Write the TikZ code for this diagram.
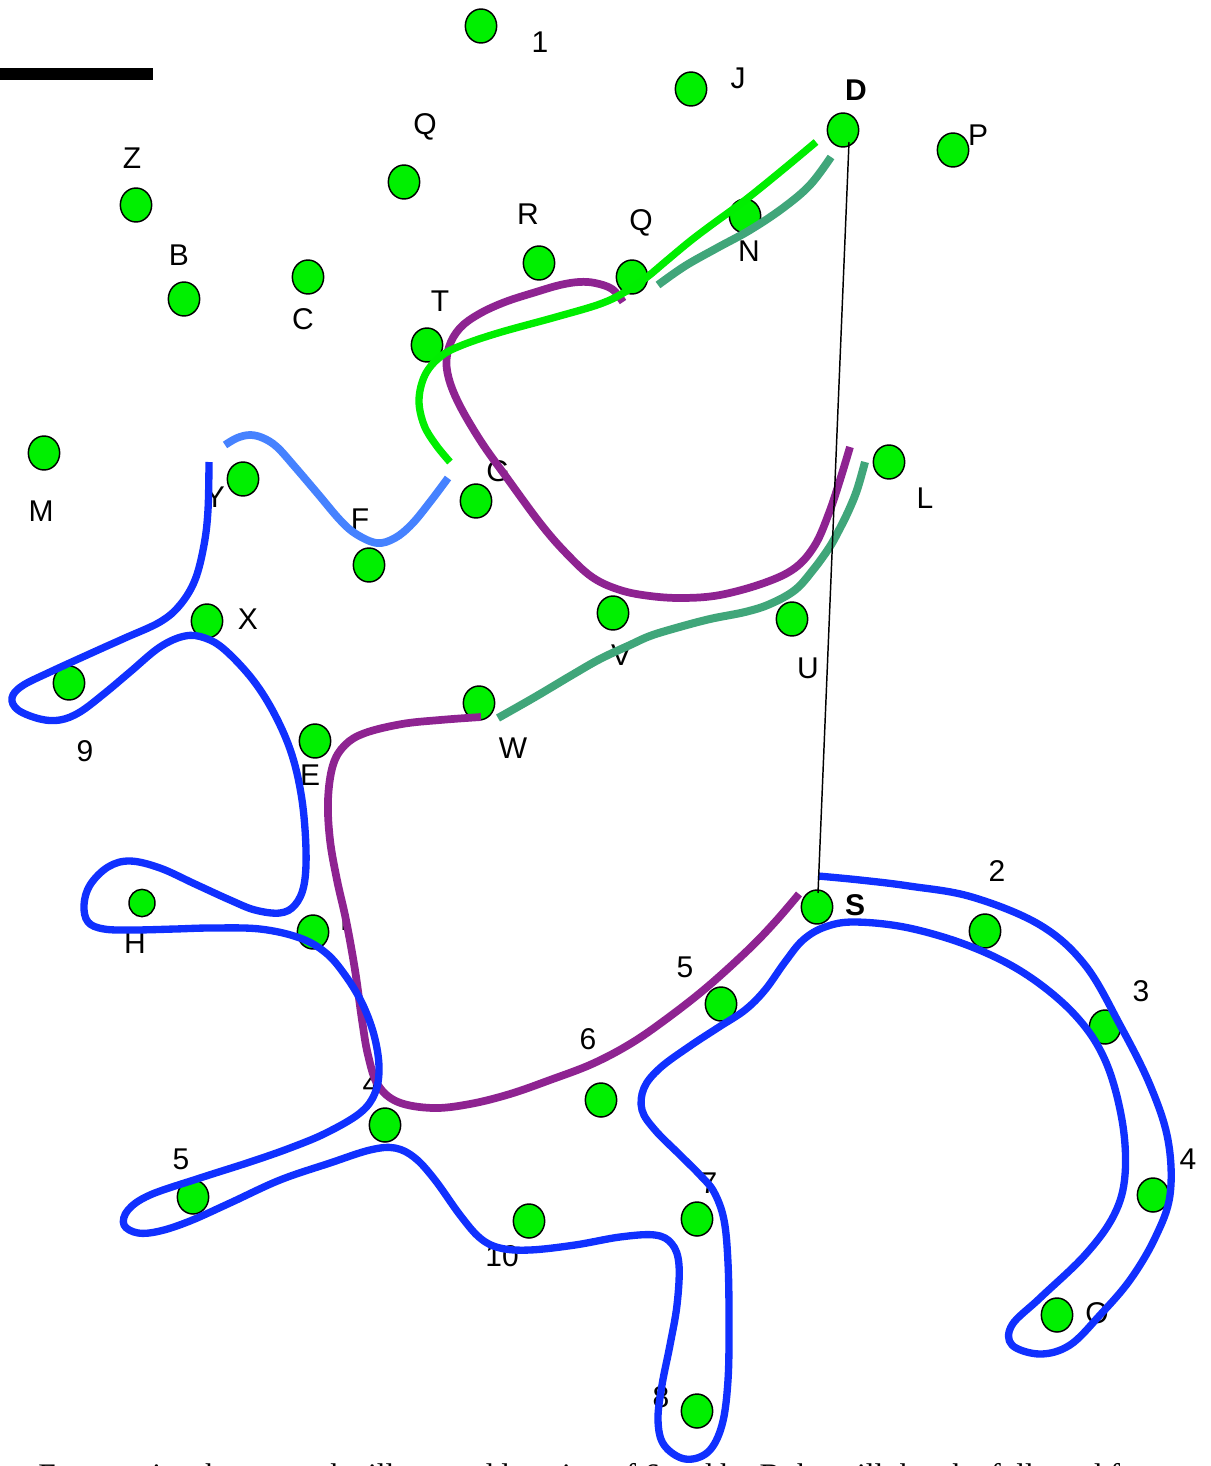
\documentclass[tikz,border=0pt]{standalone}
\usepackage{fontspec}
\setmainfont{Liberation Sans}
\newfontfamily\captionfont{Liberation Serif}
\usetikzlibrary{calc,shapes.geometric}
\definecolor{ptgreen}{RGB}{0,240,0}
\definecolor{lnblue}{RGB}{16,48,255}
\definecolor{lnpurple}{RGB}{142,35,145}
\definecolor{lngreen}{RGB}{0,238,0}
\definecolor{lnteal}{RGB}{64,166,122}
\definecolor{lnsky}{RGB}{70,130,255}
\tikzset{
  pt/.style={shape=ellipse, draw=black, line width=1.1pt, fill=ptgreen,
    minimum width=23.5pt, minimum height=25.5pt, inner sep=0pt},
  ptsmall/.style={pt, minimum width=19.5pt, minimum height=20.5pt},
  lab/.style={inner sep=0pt, font=\fontsize{22.5}{22.5}\selectfont},
  labb/.style={lab, font=\fontsize{22.5}{22.5}\selectfont\bfseries},
  ln/.style={line width=5.5pt, line join=round},
  crv/.style={smooth, tension=0.6}
}
\begin{document}
\begin{tikzpicture}[x=0.75pt, y=-0.75pt]
\useasboundingbox (0,0) rectangle (1210,1466);
\clip (0,0) rectangle (1210,1466);
\fill[white] (0,0) rectangle (1210,1466);
% scale bar
\fill[black] (0,68) rectangle (153,80);
% points
\node[pt] (c1) at (481,26) {};
\node[pt] (J) at (691,89) {};
\node[pt] (D) at (843,130) {};
\node[pt] (P) at (953,150) {};
\node[pt] (Qa) at (404,182) {};
\node[pt] (Z) at (136,205) {};
\node[pt] (B) at (184,299) {};
\node[pt] (C) at (308,277) {};
\node[pt] (R) at (539,263) {};
\node[pt] (Qb) at (632,277) {};
\node[pt] (N) at (745,216) {};
\node[pt] (T) at (427,345) {};
\node[pt] (M) at (44,453) {};
\node[pt] (Y) at (243,479) {};
\node[pt] (F) at (369,565) {};
\node[pt] (G) at (476,501) {};
\node[pt] (L) at (889,462) {};
\node[pt] (X) at (207,621) {};
\node[pt] (V) at (613,613) {};
\node[pt] (U) at (792,619) {};
\node[pt] (c9) at (69,683) {};
\node[pt] (W) at (479,703) {};
\node[pt] (E) at (315,741) {};
\node[ptsmall] (H) at (142,903) {};
\node[pt] (I) at (313,932) {};
\node[pt] (S) at (817,907) {};
\node[pt] (c2) at (985,931) {};
\node[pt] (c5r) at (721,1004) {};
\node[pt] (c6) at (601,1100) {};
\node[pt] (c3) at (1105,1027) {};
\node[pt] (c4l) at (385,1125) {};
\node[pt] (c5l) at (193,1197) {};
\node[pt] (c4r) at (1153,1195) {};
\node[pt] (c7) at (697,1219) {};
\node[pt] (c10) at (529,1221) {};
\node[pt] (O) at (1057,1315) {};
\node[pt] (c8) at (697,1411) {};
% labels
\node[lab] (l1) at (540,42) {1};
\node[lab] (lJ) at (738,78) {J};
\node[labb] (lD) at (856,90) {D};
\node[lab] (lP) at (978,135) {P};
\node[lab] (lQa) at (425,127) {Q};
\node[lab] (lZ) at (132,158) {Z};
\node[lab] (lB) at (179,255) {B};
\node[lab] (lC) at (303,319) {C};
\node[lab] (lR) at (528,214) {R};
\node[lab] (lQb) at (641,223) {Q};
\node[lab] (lN) at (749,251) {N};
\node[lab] (lT) at (440,301) {T};
\node[lab] (lM) at (41,511) {M};
\node[lab] (lY) at (215,497) {Y};
\node[lab] (lF) at (360,519) {F};
\node[lab] (lG) at (498,471) {G};
\node[lab] (lL) at (925,498) {L};
\node[lab] (lX) at (248,619) {X};
\node[lab] (lV) at (621,655) {V};
\node[lab] (lU) at (808,668) {U};
\node[lab] (l9) at (85,751) {9};
\node[lab] (lW) at (513,748) {W};
\node[lab] (lE) at (310,775) {E};
\node[lab] (lH) at (135,943) {H};
\node[lab] (lI) at (344,920) {I};
\node[labb] (lS) at (855,905) {S};
\node[lab] (l2) at (997,871) {2};
\node[lab] (l5r) at (685,967) {5};
\node[lab] (l6) at (588,1039) {6};
\node[lab] (l3) at (1141,991) {3};
\node[lab] (l4l) at (371,1084) {4};
\node[lab] (l5l) at (181,1159) {5};
\node[lab] (l4r) at (1188,1159) {4};
\node[lab] (l7) at (709,1183) {7};
\node[lab] (l10) at (502,1256) {10};
\node[lab] (lO) at (1097,1313) {O};
\node[lab] (l8) at (661,1397) {8};
% caption (cut off by the page edge, as in the reference)
\node[anchor=base west, inner sep=0pt, font=\captionfont\fontsize{23.5}{23.5}\selectfont] (cap) at (38,1485)
  {Every point shown on the illustrated location of 6 and by B the will then be followed from};
% curves
\draw[ln, lnpurple, line width=5.8pt] plot[crv] coordinates {(623,302) (612,289) (595,283) (579,282) (560,285) (536,292) (505,302) (479,314) (460,328) (449,347) (447,370) (457,400) (480,440) (507,478) (540,523) (565,552) (592,577) (620,590) (650,596) (683,598) (720,595) (764,583) (795,568) (815,545) (829,513) (840,480) (850,447)};
\draw[ln, lnpurple, line width=5.8pt] plot[crv] coordinates {(481,717) (440,720) (402,724) (365,733) (345,745) (333,765) (328,800) (330,840) (337,880) (346,920) (355,970) (362,1020) (368,1055) (378,1085) (398,1102) (433,1108) (470,1104) (510,1094) (550,1080) (592,1064) (630,1044) (665,1020) (706,988) (748,950) (775,922) (799,894)};
\draw[ln, lnteal, line width=6pt] plot[crv] coordinates {(831,157) (810,185) (783,208) (750,230) (717,248) (685,266) (658,285)};
\draw[ln, lnteal, line width=6pt] plot[crv] coordinates {(865,462) (857,490) (848,512) (838,532) (829,548) (813,570) (795,590) (770,604) (745,612) (710,619) (676,628) (650,636) (630,645) (600,659) (572,675) (535,697) (498,718)};
\draw[ln, lngreen] plot[crv] coordinates {(816,142) (780,172) (744,201) (710,226) (689,242) (665,262) (647,277) (625,292) (600,304) (556,317) (498,333) (460,346) (440,357) (425,375) (419,400) (424,425) (436,445) (450,462)};
\draw[ln, lnsky, line width=5.8pt] plot[crv] coordinates {(225,445) (237,438) (250,435) (263,438) (277,447) (295,467) (318,494) (340,520) (356,534) (377,543) (395,538) (412,524) (430,502) (448,478)};
\draw[ln, lnblue] plot[crv] coordinates {(209,462) (208,510) (204,545) (195,580) (180,605) (160,622) (125,638) (96,651) (50,672) (22,686) (12,698) (18,710) (40,719) (60,720) (80,712) (105,693) (130,672) (160,647) (185,636) (205,638) (225,650) (253,680) (275,715) (292,755) (302,800) (306,850) (304,885) (295,905) (280,913) (255,910) (230,900) (195,884) (160,868) (130,861) (108,867) (90,885) (84,905) (88,922) (104,929) (134,930) (175,929) (211,928) (260,929) (300,938) (326,953) (345,975) (362,1003) (374,1035) (379,1067) (375,1093) (360,1113) (326,1133) (290,1148) (250,1162) (200,1178) (150,1195) (128,1210) (124,1225) (138,1233) (160,1231) (190,1221) (230,1203) (280,1180) (330,1163) (370,1150) (395,1148) (415,1158) (435,1180) (460,1215) (480,1238) (500,1248) (530,1250) (575,1245) (620,1237) (655,1235) (672,1244) (679,1265) (677,1305) (670,1345) (662,1385) (658,1420) (664,1445) (685,1459) (708,1452) (722,1425) (728,1380) (729,1320) (728,1263) (724,1220) (714,1192) (700,1175) (680,1155) (655,1130) (642,1110) (644,1088) (660,1068) (690,1046) (719,1027) (745,1010) (765,990) (785,962) (803,940) (825,927) (855,922) (909,928) (972,947) (1027,975) (1075,1015) (1105,1060) (1122,1120) (1125,1175) (1114,1215) (1085,1255) (1040,1298) (1012,1325) (1012,1345) (1040,1354) (1070,1345) (1100,1315) (1130,1280) (1155,1238) (1170,1195) (1168,1140) (1150,1085) (1120,1025) (1085,965) (1040,925) (972,897) (909,886) (860,880) (818,876)};
% thin connector D -- S
\draw[black, line width=1.1pt] ($(D.center)+(6,12)$) -- ($(S.center)+(1,-14)$);
\end{tikzpicture}
\end{document}
